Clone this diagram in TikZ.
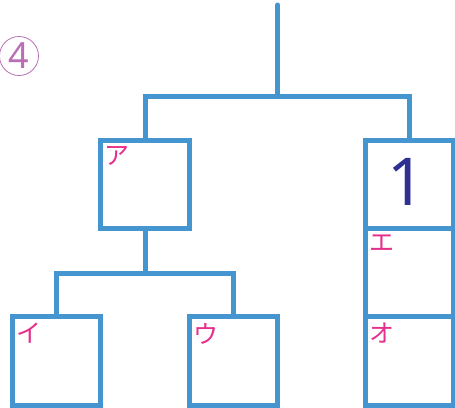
\documentclass[tikz,border=0pt]{standalone}
\usepackage{fontspec}
\setmainfont{Noto Sans}
\newfontfamily\jpfont{Noto Sans CJK JP}
\definecolor{lineblue}{RGB}{69,150,208}
\definecolor{kanapink}{RGB}{230,46,140}
\definecolor{numblue}{RGB}{46,49,146}
\definecolor{circpurple}{RGB}{184,111,181}
\begin{document}
\begin{tikzpicture}[x=1pt, y=-1pt, line join=miter,
		box/.style={draw=lineblue, line width=5pt, minimum size=88.4pt, inner sep=0pt, outer sep=0pt},
		wire/.style={draw=lineblue, line width=5pt},
		kana/.style={font=\jpfont\fontsize{25}{25}\selectfont, text=kanapink, inner sep=0pt, anchor=north west}]
	\useasboundingbox (0,0) rectangle (455,407);
	% Boxes
	\node[box] (A) at (145,184.2) {};
	\node[box] (I) at (56.7,361) {};
	\node[box] (U) at (233.6,361) {};
	\node[box] (one) at (409.7,184.2) {};
	\node[box] (E) at (409.7,272.6) {};
	\node[box] (O) at (409.7,361) {};
	% Tree lines
	\coordinate (top) at (277.7,5);
	\coordinate (bar) at (277.7,96);
	\coordinate (fork) at (145,273.5);
	\draw[wire, line cap=round] (top) -- (bar);
	\draw[wire] (A.north) |- (bar) -| (one.north);
	\draw[wire] (A.south) -- (fork);
	\draw[wire] (I.north) |- (fork) -| (U.north);
	% Labels
	\node[kana] (la) at ([shift={(3.5pt,-6pt)}]A.north west) {ア};
	\node[kana] (li) at ([shift={(3.5pt,-6pt)}]I.north west) {イ};
	\node[kana] (lu) at ([shift={(3.5pt,-6pt)}]U.north west) {ウ};
	\node[kana] (le) at ([shift={(3.5pt,-6pt)}]E.north west) {エ};
	\node[kana] (lo) at ([shift={(3.5pt,-6pt)}]O.north west) {オ};
	\node[font=\fontsize{66}{66}\selectfont, text=numblue, inner sep=0pt] (n1) at (406.5,182.3) {1};
	\node[circle, draw=circpurple, line width=0.8pt, minimum size=39pt, inner sep=0pt, text=circpurple, font=\fontsize{36}{36}\selectfont] (q4) at (19,56) {4};
\end{tikzpicture}
\end{document}
